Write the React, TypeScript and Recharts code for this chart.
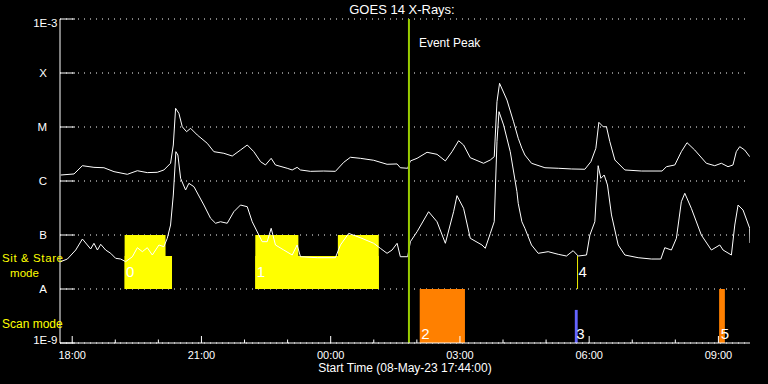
import React from 'react';
import {
  ComposedChart,
  Line,
  XAxis,
  YAxis,
  CartesianGrid,
  ReferenceArea,
  ReferenceLine,
} from 'recharts';

const FONT = '"Liberation Sans", Arial, sans-serif';

// time axis: minutes since start (08-May-23 17:44:00)
const X_DOMAIN = [-1, 960];
const HOUR_TICKS = [16, 76, 136, 196, 256, 316, 376, 436, 496, 556, 616, 676, 736, 796, 856, 916];
const HOUR_LABELS = ['18:00', '', '', '21:00', '', '', '00:00', '', '', '03:00', '', '', '06:00', '', '', '09:00'];

const Y_TICKS = [1e-9, 1e-8, 1e-7, 1e-6, 1e-5, 1e-4, 1e-3];
const Y_LABELS = ['1E-9', 'A', 'B', 'C', 'M', 'X', '1E-3'];

// GOES long channel (1-8 A)
const LONG_T = [
  0, 18.5, 30.2, 46.3, 60.2, 74.2, 92.8, 106.7, 120.6, 134.5, 143.7, 153, 156.8, 160, 164.6, 169.3,
  175.3, 180.9, 190.2, 204.1, 213.3, 227.2, 238.9, 250.4, 259.8, 268.9, 278.3, 285.2, 293.1, 299.1,
  315.4, 322.4, 329.3, 333.9, 347.8, 366.3, 382.6, 394.2, 403.5, 417.4, 435.9, 454.5, 468.5, 473,
  483.2, 487, 496.3, 510.2, 524.1, 535.7, 545, 554.2, 561.1, 570.4, 588.9, 598.3, 603.8, 607.6,
  611.2, 621.5, 630.7, 637.2, 642.3, 646.5, 655.7, 674.4, 692.9, 711.4, 730, 738.4, 745.3, 749.5,
  755.5, 760.1, 764.8, 771.8, 785.7, 808.8, 837.6, 843.6, 855.3, 864.4, 872.3, 883, 899.2, 910.9,
  920.1, 929.4, 936.3, 940.9, 945.7, 952.6, 959.6,
];
const LONG_FLUX = [
  1.29e-6, 1.35e-6, 1.92e-6, 1.79e-6, 1.76e-6, 1.49e-6, 1.33e-6, 1.55e-6, 1.43e-6, 1.45e-6, 1.6e-6,
  2.13e-6, 4.64e-6, 2.22e-5, 1.79e-5, 1.01e-5, 8.19e-6, 9.46e-6, 7.11e-6, 4.99e-6, 3.49e-6, 3.26e-6,
  2.9e-6, 3.75e-6, 4.64e-6, 3.49e-6, 2.28e-6, 1.98e-6, 2.63e-6, 1.98e-6, 1.72e-6, 1.6e-6, 1.79e-6,
  1.6e-6, 1.51e-6, 1.53e-6, 1.51e-6, 2.22e-6, 2.75e-6, 2.63e-6, 2.42e-6, 2.04e-6, 2.07e-6, 1.76e-6,
  1.72e-6, 2.35e-6, 2.63e-6, 3.4e-6, 3.12e-6, 2.35e-6, 3.49e-6, 5.57e-6, 4.64e-6, 2.7e-6, 2.13e-6,
  2.45e-6, 2.82e-6, 2.94e-5, 6.44e-5, 3.16e-5, 1.25e-5, 6.18e-6, 4.03e-6, 3.03e-6, 2.13e-6, 1.76e-6,
  1.72e-6, 1.67e-6, 1.65e-6, 2.28e-6, 4.03e-6, 1.22e-5, 1.01e-5, 1.01e-5, 5.34e-6, 2.45e-6, 1.6e-6,
  1.53e-6, 1.53e-6, 1.84e-6, 1.98e-6, 3.49e-6, 5.12e-6, 3.75e-6, 2.13e-6, 1.92e-6, 2.13e-6, 1.84e-6,
  1.98e-6, 3.49e-6, 4.32e-6, 3.75e-6, 2.82e-6,
];

// GOES short channel (0.5-4 A)
const SHORT_T = [
  0, 9.3, 20.9, 30.2, 37.1, 41.7, 46.3, 51.1, 55.7, 62.6, 69.6, 76.5, 83.5, 90.4, 99.8, 106.7, 113.7,
  120.6, 127.6, 136.8, 143.7, 148.4, 153, 156.8, 160.4, 163.2, 167, 173.9, 178.5, 185.5, 199.4, 208.7,
  215.7, 222.6, 231.9, 241.1, 250.4, 259.8, 266.7, 275.9, 280.6, 287.6, 293.1, 299.1, 310.7, 322.4,
  329.3, 333.9, 357.2, 382.6, 389.6, 401.1, 417.4, 435.9, 445.2, 454.5, 461.5, 468.5, 473, 483.2, 487,
  496.3, 512.4, 524.1, 535.7, 547.2, 551.9, 561.1, 570.4, 586.7, 591.3, 598.3, 603.8, 607.6, 610.4,
  616.8, 626.1, 635.4, 637.2, 642.3, 646.5, 655.7, 665, 678.9, 692.9, 704.4, 713.7, 720.7, 732.3, 737,
  743.9, 748.5, 752.3, 756.9, 761.5, 767.1, 776.4, 785.7, 804.2, 822.7, 835.8, 841.3, 850.5, 857.5,
  864.4, 869.2, 878.3, 892.2, 906.2, 917.9, 922.5, 934.1, 938.8, 943.4, 950.3, 959.6, 960,
];
const SHORT_FLUX = [
  3.21e-8, 3.59e-8, 5.27e-8, 8.43e-8, 6.53e-8, 5.51e-8, 7.02e-8, 5.27e-8, 6.73e-8, 5.27e-8, 4.58e-8,
  3.7e-8, 3.59e-8, 3.21e-8, 3.96e-8, 5.82e-8, 4.91e-8, 5.82e-8, 4.26e-8, 6.53e-8, 6.07e-8, 8.69e-8,
  1.53e-7, 5.5e-7, 3.49e-6, 3.03e-6, 1.12e-6, 6.81e-7, 9.06e-7, 7.85e-7, 3.59e-7, 2.04e-7, 1.65e-7,
  1.76e-7, 1.65e-7, 2.7e-7, 3.59e-7, 3.34e-7, 1.76e-7, 1.0e-7, 7.52e-8, 7.52e-8, 1.33e-7, 6.53e-8,
  5.27e-8, 4.26e-8, 6.53e-8, 3.96e-8, 3.8e-8, 3.8e-8, 6.53e-8, 1.07e-7, 8.91e-8, 7.02e-8, 5.67e-8,
  4.58e-8, 5.27e-8, 7.02e-8, 3.96e-8, 3.96e-8, 7.52e-8, 1.15e-7, 2.7e-7, 1.76e-7, 7.02e-8, 2.7e-7,
  5.35e-7, 3.12e-7, 8.69e-8, 6.53e-8, 5.67e-8, 1.07e-7, 1.76e-7, 5.34e-6, 1.92e-5, 1.09e-5, 3.49e-6,
  6.34e-7, 3.86e-7, 1.76e-7, 1.33e-7, 6.53e-8, 4.58e-8, 4.91e-8, 4.39e-8, 4.08e-8, 5.12e-8, 4.08e-8,
  4.26e-8, 1.0e-7, 1.76e-7, 1.92e-6, 1.12e-6, 1.29e-6, 8.43e-7, 2.35e-7, 6.53e-8, 4.26e-8, 3.8e-8,
  3.59e-8, 3.59e-8, 5.82e-8, 5.27e-8, 8.69e-8, 4.14e-7, 5.92e-7, 3.12e-7, 1.0e-7, 5.27e-8, 6.53e-8,
  5.27e-8, 4.26e-8, 1.53e-7, 3.59e-7, 2.9e-7, 1.33e-7, 7.11e-8,
];

const EVENT_PEAK_T = 485;

// Sit & Stare mode intervals (minutes)
const SIT_FULL = [
  [89, 146],
  [271, 331],
  [386, 443],
];
const SIT_LOW_TOP = 4.1e-8;
const SIT_LOW = [
  { x1: 89, x2: 155, label: '0' },
  { x1: 271, x2: 443, label: '1' },
  { x1: 719.2, x2: 720.5, label: '4' },
];
// Scan mode intervals
const SCAN = [
  { x1: 500, x2: 563, top: 1e-8, label: '2' },
  { x1: 716, x2: 720, top: 4.1e-9, label: '3' },
  { x1: 917, x2: 925, top: 1e-8, label: '5' },
];

const longData = LONG_T.map((t, i) => ({ t, v: LONG_FLUX[i] }));
const shortData = SHORT_T.map((t, i) => ({ t, v: SHORT_FLUX[i] }));

const WHITE = '#ffffff';
const YELLOW = '#ffff00';
const ORANGE = '#ff8000';
const BLUE = '#6464ff';
const GREEN = '#99cc00';

const tickIndex = (v: number) => Math.round(Math.log10(v)) + 9;

const LeftTick = (props: any) => {
  const { x, y, payload } = props;
  const i = tickIndex(payload.value);
  const lbl = Y_LABELS[i];
  const isNum = i === 0 || i === 6;
  const ty = i === 6 ? y + 8.3 : i === 0 ? y + 1 : y + 4.2;
  return (
    <g>
      <line x1={x} x2={x + 15} y1={y} y2={y} stroke={WHITE} strokeWidth={1} />
      <text
        x={isNum ? x - 2.5 : x - 13}
        y={ty}
        textAnchor="end"
        fill={WHITE}
        fontSize={11.5}
        fontFamily={FONT}
      >
        {lbl}
      </text>
    </g>
  );
};

const RightTick = (props: any) => {
  const { x, y } = props;
  return <line x1={x} x2={x - 14} y1={y} y2={y} stroke={WHITE} strokeWidth={1} />;
};

const BottomTick = (props: any) => {
  const { x, y, payload } = props;
  const i = HOUR_TICKS.indexOf(payload.value);
  const lbl = HOUR_LABELS[i] || '';
  const major = lbl !== '';
  return (
    <g>
      <line x1={x} x2={x} y1={y} y2={y - (major ? 7 : 3.5)} stroke={WHITE} strokeWidth={1} />
      {major && (
        <text x={x} y={y + 16.3} textAnchor="middle" fill={WHITE} fontSize={11} fontFamily={FONT}>
          {lbl}
        </text>
      )}
    </g>
  );
};

const TopTick = (props: any) => {
  const { x, y, payload } = props;
  const i = HOUR_TICKS.indexOf(payload.value);
  const major = (HOUR_LABELS[i] || '') !== '';
  return <line x1={x} x2={x} y1={y} y2={y + (major ? 7 : 3.5)} stroke={WHITE} strokeWidth={1} />;
};

const sitLabel = (text: string) => (props: any) => {
  const vb = props.viewBox || {};
  return (
    <text
      x={vb.x + 1.5}
      y={vb.y + vb.height - 12.2}
      fill={WHITE}
      fontSize={15}
      fontFamily={FONT}
    >
      {text}
    </text>
  );
};

const scanLabel = (text: string) => (props: any) => {
  const vb = props.viewBox || {};
  return (
    <text x={vb.x + 1.5} y={vb.y + vb.height - 4} fill={WHITE} fontSize={15} fontFamily={FONT}>
      {text}
    </text>
  );
};

const eventLabel = (props: any) => {
  const vb = props.viewBox || {};
  return (
    <text x={vb.x + 10} y={vb.y + 27.7} fill={WHITE} fontSize={12} fontFamily={FONT}>
      Event Peak
    </text>
  );
};

export default function App() {
  return (
    <div
      style={{
        position: 'absolute',
        left: 0,
        top: 0,
        width: 768,
        height: 384,
        background: '#000',
        overflow: 'hidden',
      }}
    >
      <ComposedChart width={768} height={384} margin={{ top: 19, right: 18, bottom: 11, left: 0 }}>
        <XAxis
          xAxisId={0}
          type="number"
          dataKey="t"
          domain={X_DOMAIN}
          ticks={HOUR_TICKS}
          interval={0}
          allowDataOverflow
          height={30}
          tickSize={0}
          tickMargin={0}
          tickLine={false}
          axisLine={{ stroke: WHITE }}
          tick={<BottomTick />}
        />
        <XAxis
          xAxisId="top"
          orientation="top"
          type="number"
          dataKey="t"
          domain={X_DOMAIN}
          ticks={HOUR_TICKS}
          interval={0}
          allowDataOverflow
          height={0}
          tickSize={0}
          tickMargin={0}
          tickLine={false}
          axisLine={{ stroke: WHITE }}
          tick={<TopTick />}
        />
        <YAxis
          yAxisId={0}
          type="number"
          scale="log"
          domain={[1e-9, 1e-3]}
          ticks={Y_TICKS}
          interval={0}
          allowDataOverflow
          width={60}
          tickSize={0}
          tickMargin={0}
          tickLine={false}
          axisLine={{ stroke: WHITE }}
          tick={<LeftTick />}
        />
        <YAxis
          yAxisId="right"
          orientation="right"
          type="number"
          scale="log"
          domain={[1e-9, 1e-3]}
          ticks={Y_TICKS}
          interval={0}
          allowDataOverflow
          width={0}
          tickSize={0}
          tickMargin={0}
          tickLine={false}
          axisLine={{ stroke: WHITE }}
          tick={<RightTick />}
        />
        <CartesianGrid
          yAxisId={0}
          xAxisId={0}
          vertical={false}
          stroke={WHITE}
          strokeDasharray="1 5"
        />
        {SIT_FULL.map(([a, b], i) => (
          <ReferenceArea
            key={'sf' + i}
            x1={a}
            x2={b}
            y1={1e-8}
            y2={1e-7}
            fill={YELLOW}
            fillOpacity={1}
            stroke="none"
            ifOverflow="visible"
          />
        ))}
        {SIT_LOW.map((s, i) => (
          <ReferenceArea
            key={'sl' + i}
            x1={s.x1}
            x2={s.x2}
            y1={1e-8}
            y2={SIT_LOW_TOP}
            fill={YELLOW}
            fillOpacity={1}
            stroke="none"
            ifOverflow="visible"
            label={sitLabel(s.label)}
          />
        ))}
        {SCAN.map((s, i) => (
          <ReferenceArea
            key={'sc' + i}
            x1={s.x1}
            x2={s.x2}
            y1={1e-9}
            y2={s.top}
            fill={s.label === '3' ? BLUE : ORANGE}
            fillOpacity={1}
            stroke="none"
            ifOverflow="visible"
            label={scanLabel(s.label)}
          />
        ))}
        <Line
          data={longData}
          dataKey="v"
          type="linear"
          stroke={WHITE}
          strokeWidth={1}
          dot={false}
          isAnimationActive={false}
        />
        <Line
          data={shortData}
          dataKey="v"
          type="linear"
          stroke={WHITE}
          strokeWidth={1}
          dot={false}
          isAnimationActive={false}
        />
        <ReferenceLine
          x={EVENT_PEAK_T}
          stroke={GREEN}
          strokeWidth={2}
          ifOverflow="visible"
          label={eventLabel}
        />
      </ComposedChart>
      <svg
        width={768}
        height={384}
        style={{ position: 'absolute', left: 0, top: 0, pointerEvents: 'none' }}
      >
        <text x={402} y={14} textAnchor="middle" fill={WHITE} fontSize={13} fontFamily={FONT}>
          GOES 14 X-Rays:
        </text>
        <text x={405} y={372} textAnchor="middle" fill={WHITE} fontSize={12} fontFamily={FONT}>
          Start Time (08-May-23 17:44:00)
        </text>
        <text x={2} y={262} fill={YELLOW} fontSize={11.5} fontFamily={FONT} letterSpacing={0.6}>
          Sit &amp; Stare
        </text>
        <text x={24.5} y={277} textAnchor="middle" fill={YELLOW} fontSize={11.5} fontFamily={FONT}>
          mode
        </text>
        <text x={2} y={327.7} fill={YELLOW} fontSize={12} fontFamily={FONT}>
          Scan mode
        </text>
      </svg>
    </div>
  );
}
